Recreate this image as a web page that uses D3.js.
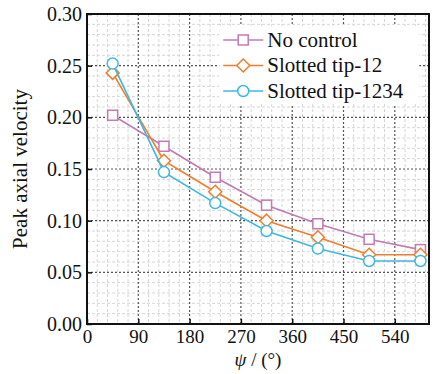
<!DOCTYPE html>
<html>
<head>
<meta charset="utf-8">
<script src="https://cdn.jsdelivr.net/npm/d3@7"></script>
<style>
    body { margin: 0; background: #fff; }
</style>
</head>
<body>
<div id="chart"></div>
<script>
const psi = [45, 135, 225, 315, 405, 495, 585];
const noControl = [0.202, 0.172, 0.142, 0.115, 0.097, 0.082, 0.072];
const slotted12 = [0.243, 0.158, 0.128, 0.100, 0.084, 0.067, 0.067];
const slotted1234 = [0.252, 0.147, 0.117, 0.090, 0.073, 0.061, 0.061];
const xTicks = [0, 90, 180, 270, 360, 450, 540];
const yTicks = [0.00, 0.05, 0.10, 0.15, 0.20, 0.25, 0.30];
const seriesNames = ["No control", "Slotted tip-12", "Slotted tip-1234"];

const FONT = "'Liberation Serif', 'Times New Roman', 'DejaVu Serif', serif";

const series = [
    { name: seriesNames[0], values: noControl, color: "#c47ab3", marker: "square" },
    { name: seriesNames[1], values: slotted12, color: "#f07d2d", marker: "diamond" },
    { name: seriesNames[2], values: slotted1234, color: "#3db8e2", marker: "circle" }
];

const width = 436, height = 374;
const margin = { top: 14, right: 7, bottom: 50, left: 87 };
const w = width - margin.left - margin.right;
const h = height - margin.top - margin.bottom;

const svg = d3.select("#chart").append("svg")
    .attr("width", width)
    .attr("height", height)
    .style("font-family", FONT);

const g = svg.append("g").attr("transform", `translate(${margin.left},${margin.top})`);

const x = d3.scaleLinear().domain([0, 600]).range([0, w]);
const y = d3.scaleLinear().domain([0, 0.30]).range([h, 0]);

// minor grid
g.append("g").selectAll("line")
    .data(d3.range(0, 601, 18).filter(v => v % 90 !== 0))
    .join("line")
    .attr("x1", d => x(d)).attr("x2", d => x(d))
    .attr("y1", 0).attr("y2", h)
    .attr("stroke", "#d6d6d6").attr("stroke-width", 1).attr("stroke-dasharray", "3,2");
g.append("g").selectAll("line")
    .data(d3.range(1, 30).filter(v => v % 5 !== 0).map(v => v / 100))
    .join("line")
    .attr("x1", 0).attr("x2", w)
    .attr("y1", d => y(d)).attr("y2", d => y(d))
    .attr("stroke", "#d6d6d6").attr("stroke-width", 1).attr("stroke-dasharray", "3,2");

// major grid
g.append("g").selectAll("line")
    .data(xTicks.slice(1))
    .join("line")
    .attr("x1", d => x(d)).attr("x2", d => x(d))
    .attr("y1", 0).attr("y2", h)
    .attr("stroke", "#555").attr("stroke-width", 1.2).attr("stroke-dasharray", "2,2");
g.append("g").selectAll("line")
    .data(yTicks.slice(1, -1))
    .join("line")
    .attr("x1", 0).attr("x2", w)
    .attr("y1", d => y(d)).attr("y2", d => y(d))
    .attr("stroke", "#555").attr("stroke-width", 1.2).attr("stroke-dasharray", "2,2");

// axes
const xAxis = g.append("g")
    .attr("transform", `translate(0,${h})`)
    .call(d3.axisBottom(x).tickValues(xTicks).tickSizeInner(-5).tickSizeOuter(0).tickPadding(6));
const yAxis = g.append("g")
    .call(d3.axisLeft(y).tickValues(yTicks).tickFormat(d3.format(".2f")).tickSizeInner(-5).tickSizeOuter(0).tickPadding(5));
[xAxis, yAxis].forEach(a => {
    a.attr("font-family", null).attr("font-size", null);
    a.select(".domain").remove();
    a.selectAll(".tick line").attr("stroke", "#111").attr("stroke-width", 1.5);
    a.selectAll("text").style("font-family", FONT).style("font-size", "20px").attr("fill", "#111");
});
xAxis.selectAll("text").style("font-size", "19px");

// frame
g.append("rect")
    .attr("width", w).attr("height", h)
    .attr("fill", "none").attr("stroke", "#111").attr("stroke-width", 2);

// legend background
const legend = g.append("g").attr("transform", `translate(${x(239)},${y(0.2884)})`);
legend.append("rect")
    .attr("x", -4).attr("y", 0).attr("width", 200).attr("height", 78)
    .attr("fill", "#fff");

const line = d3.line().x((d, i) => x(psi[i])).y(d => y(d));

function drawMarker(sel, type, color, cx, cy) {
    if (type === "square") {
        sel.append("rect").attr("x", cx - 5).attr("y", cy - 5).attr("width", 10).attr("height", 10)
            .attr("fill", "#fff").attr("stroke", color).attr("stroke-width", 1.5);
    } else if (type === "diamond") {
        sel.append("path").attr("d", `M${cx},${cy - 6.5}L${cx + 6.5},${cy}L${cx},${cy + 6.5}L${cx - 6.5},${cy}Z`)
            .attr("fill", "#fff").attr("stroke", color).attr("stroke-width", 1.5);
    } else {
        sel.append("circle").attr("cx", cx).attr("cy", cy).attr("r", 5.5)
            .attr("fill", "#fff").attr("stroke", color).attr("stroke-width", 1.5);
    }
}

series.forEach(s => {
    g.append("path")
        .datum(s.values)
        .attr("d", line)
        .attr("fill", "none")
        .attr("stroke", s.color)
        .attr("stroke-width", 1.6);
    const mg = g.append("g");
    s.values.forEach((v, i) => drawMarker(mg, s.marker, s.color, x(psi[i]), y(v)));
});

// legend entries
series.forEach((s, i) => {
    const ly = 26 + i * 25.5;
    const row = legend.append("g");
    row.append("line")
        .attr("x1", 0).attr("x2", 40)
        .attr("y1", ly - 12).attr("y2", ly - 12)
        .attr("stroke", s.color).attr("stroke-width", 1.6);
    drawMarker(row, s.marker, s.color, 20, ly - 12);
    row.append("text")
        .attr("x", 44).attr("y", ly - 5)
        .style("font-family", FONT)
        .style("font-size", "21px")
        .attr("fill", "#111")
        .text(s.name);
});

// axis titles
svg.append("text")
    .attr("transform", `translate(${27},${margin.top + h / 2}) rotate(-90)`)
    .attr("text-anchor", "middle")
    .style("font-family", FONT)
    .style("font-size", "21px")
    .attr("fill", "#111")
    .text("Peak axial velocity");

const xt = svg.append("text")
    .attr("x", margin.left + w / 2)
    .attr("y", 365.5)
    .attr("text-anchor", "middle")
    .style("font-family", FONT)
    .style("font-size", "19px")
    .attr("fill", "#111");
xt.append("tspan").attr("font-style", "italic").text("ψ");
xt.append("tspan").text(" / (°)");
</script>
</body>
</html>
